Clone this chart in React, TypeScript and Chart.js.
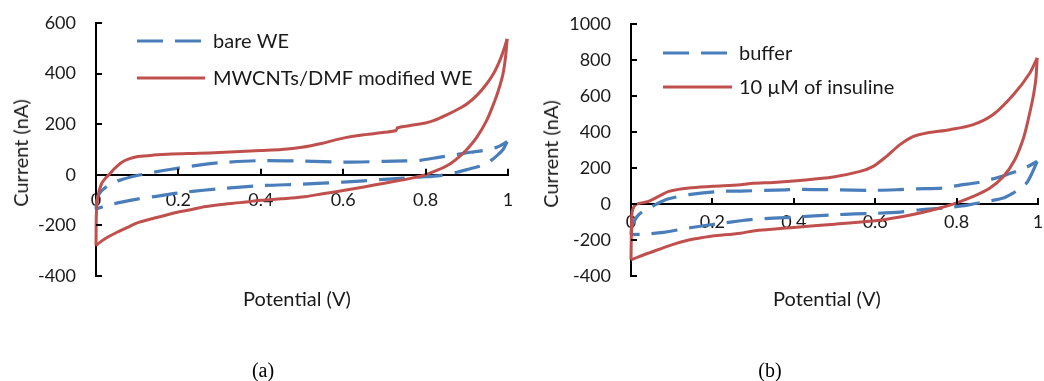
import React, { useEffect, useRef } from "react";
import { Chart, registerables } from "chart.js";

Chart.register(...registerables);

// ---------- Panel (a) data: potential (V) / current (nA) ----------
const aBareFwdV = [0, 0.003, 0.01, 0.03, 0.057, 0.1, 0.14, 0.183, 0.267, 0.3, 0.4, 0.5, 0.6, 0.7, 0.75, 0.786, 0.835, 0.875, 0.908, 0.94, 0.973, 0.998];
const aBareFwdI = [-135, -95, -70, -42, -22, -3, 10, 22, 42, 48, 56, 54, 50, 53, 55, 57, 70, 80, 89, 96, 109, 131];
const aBareRevV = [0.998, 0.988, 0.976, 0.96, 0.94, 0.908, 0.876, 0.835, 0.786, 0.738, 0.7, 0.6, 0.5, 0.4, 0.3, 0.267, 0.2, 0.142, 0.1, 0.062, 0.03, 0];
const aBareRevI = [131, 100, 80, 58, 38, 24, 10, -3, -9, -14, -18, -29, -37, -43, -55, -60, -72, -86, -96, -108, -120, -135];

const aMwFwdV = [0, 0.001, 0.004, 0.013, 0.022, 0.033, 0.045, 0.062, 0.08, 0.102, 0.14, 0.183, 0.25, 0.3, 0.35, 0.4, 0.45, 0.5, 0.55, 0.6, 0.65, 0.7, 0.728, 0.732, 0.76, 0.8, 0.819, 0.85, 0.875, 0.9, 0.925, 0.948, 0.965, 0.98, 0.99, 0.998];
const aMwFwdI = [-280, -150, -90, -37, -15, 3, 25, 49, 63, 72, 78, 82, 85, 88, 92, 96, 100, 109, 125, 145, 158, 168, 175, 186, 194, 205, 214, 236, 256, 280, 315, 359, 400, 451, 495, 537];
const aMwRevV = [0.998, 0.994, 0.988, 0.978, 0.968, 0.948, 0.924, 0.9, 0.882, 0.859, 0.827, 0.794, 0.76, 0.738, 0.7, 0.65, 0.6, 0.55, 0.5, 0.45, 0.4, 0.35, 0.3, 0.267, 0.223, 0.2, 0.142, 0.1, 0.078, 0.05, 0.029, 0.01, 0];
const aMwRevI = [537, 465, 400, 340, 293, 214, 148, 100, 72, 43, 17, -3, -15, -22, -33, -48, -62, -75, -88, -95, -101, -110, -118, -125, -140, -147, -171, -190, -207, -228, -246, -266, -280];

// ---------- Panel (b) data ----------
const bBufFwdV = [0, 0.003, 0.015, 0.03, 0.052, 0.085, 0.1, 0.142, 0.22, 0.269, 0.38, 0.4, 0.5, 0.594, 0.661, 0.7, 0.767, 0.808, 0.85, 0.882, 0.923, 0.968, 0.998];
const bBufFwdI = [-170, -120, -69, -40, -13, 24, 33, 52, 70, 72, 79, 81, 79, 76, 80, 84, 89, 105, 118, 135, 163, 200, 237];
const bBufRevV = [0.998, 0.985, 0.972, 0.955, 0.939, 0.915, 0.874, 0.84, 0.808, 0.77, 0.71, 0.661, 0.6, 0.55, 0.5, 0.4, 0.3, 0.269, 0.22, 0.142, 0.08, 0.04, 0];
const bBufRevI = [237, 170, 117, 85, 61, 33, 14, 0, -12, -22, -32, -45, -52, -55, -60, -73, -85, -93, -108, -133, -158, -166, -170];

const bInsFwdV = [0, 0.001, 0.002, 0.004, 0.011, 0.043, 0.068, 0.093, 0.142, 0.2, 0.269, 0.3, 0.35, 0.415, 0.497, 0.563, 0.595, 0.628, 0.661, 0.694, 0.727, 0.784, 0.841, 0.89, 0.94, 0.98, 0.998];
const bInsFwdI = [-310, -150, -60, -32, -4, 15, 42, 70, 89, 98, 107, 115, 120, 131, 150, 181, 209, 265, 330, 376, 395, 413, 441, 497, 608, 728, 812];
const bInsRevV = [0.998, 0.995, 0.99, 0.984, 0.976, 0.964, 0.943, 0.915, 0.882, 0.841, 0.8, 0.759, 0.71, 0.661, 0.6, 0.5, 0.4, 0.3, 0.269, 0.2, 0.182, 0.142, 0.1, 0.043, 0.02, 0];
const bInsRevI = [812, 700, 620, 550, 469, 364, 246, 153, 89, 42, 6, -22, -50, -72, -93, -112, -130, -150, -162, -178, -184, -200, -227, -273, -292, -310];

// ---------- Axes ----------
const xTicks = [0, 0.2, 0.4, 0.6, 0.8, 1];
const aYRange = [-400, 600];
const bYRange = [-400, 1000];

const aLabels = ["bare WE", "MWCNTs/DMF modified WE"];
const bLabels = ["buffer", "10 µM of insuline"];

const BLUE = "#4a7ebb";
const RED = "#c0504d";
const FONT = "Lato, 'Open Sans', sans-serif";
const TEXT = "#1a1a1a";

const toPts = (v: number[], i: number[]) => v.map((x, k) => ({ x, y: i[k] }));

const decorPlugin = {
  id: "cvDecor",
  afterDraw(chart: any, _args: any, opts: any) {
    const ctx = chart.ctx as CanvasRenderingContext2D;
    const xs = chart.scales.x;
    const ys = chart.scales.y;
    const y0 = ys.getPixelForValue(0);
    ctx.save();
    ctx.strokeStyle = "#000";
    ctx.lineWidth = 2;
    ctx.setLineDash([]);
    ctx.beginPath();
    ys.ticks.forEach((t: any) => {
      const py = Math.round(ys.getPixelForValue(t.value));
      ctx.moveTo(xs.left, py);
      ctx.lineTo(xs.left + 6, py);
    });
    xs.ticks.forEach((t: any) => {
      if (Math.abs(t.value) < 1e-9) return;
      const px = Math.round(xs.getPixelForValue(t.value));
      ctx.moveTo(px, y0);
      ctx.lineTo(px, y0 - 6);
    });
    ctx.stroke();

    const L = opts && opts.legend;
    if (L) {
      ctx.font = `20px ${FONT}`;
      ctx.textBaseline = "middle";
      ctx.fillStyle = TEXT;
      L.rows.forEach((ry: number, k: number) => {
        const ds = chart.data.datasets[L.ds[k]];
        ctx.strokeStyle = ds.borderColor;
        ctx.lineWidth = ds.borderWidth;
        ctx.setLineDash(ds.borderDash || []);
        ctx.lineDashOffset = 0;
        ctx.beginPath();
        ctx.moveTo(L.x1, ry);
        ctx.lineTo(L.x2, ry);
        ctx.stroke();
        ctx.setLineDash([]);
        ctx.fillText(ds.label, L.tx, ry + 1);
      });
    }
    ctx.restore();
  },
};

const zeroPad = (s: any) => {
  s.paddingTop = 0;
  s.paddingBottom = 0;
  s.paddingLeft = 0;
  s.paddingRight = 0;
};

function makeConfig(
  datasets: any[],
  yRange: number[],
  yWidth: number,
  pad: { top: number; right: number; bottom: number },
  xPad: number,
  legend: any
): any {
  return {
    type: "scatter",
    data: { datasets },
    plugins: [decorPlugin],
    options: {
      animation: false,
      responsive: false,
      devicePixelRatio: 1,
      layout: { padding: { left: 0, top: pad.top, right: pad.right, bottom: pad.bottom } },
      plugins: {
        legend: { display: false },
        tooltip: { enabled: false },
        cvDecor: { legend },
      },
      scales: {
        x: {
          type: "linear",
          position: { y: 0 },
          min: 0,
          max: 1,
          afterBuildTicks: (s: any) => {
            s.ticks = xTicks.map((v) => ({ value: v }));
          },
          afterFit: zeroPad,
          grid: { display: false, drawTicks: false },
          border: { display: true, color: "#000", width: 2 },
          ticks: {
            padding: xPad,
            color: TEXT,
            font: { family: FONT, size: 18 },
            maxRotation: 0,
            autoSkip: false,
            callback: (v: any) => String(Number(Number(v).toFixed(1))),
          },
        },
        y: {
          type: "linear",
          position: "left",
          min: yRange[0],
          max: yRange[1],
          afterFit: (s: any) => {
            s.width = yWidth;
            zeroPad(s);
          },
          grid: { display: false, drawTicks: false },
          border: { display: true, color: "#000", width: 2 },
          ticks: {
            stepSize: 200,
            padding: 20,
            color: TEXT,
            font: { family: FONT, size: 18 },
            callback: (v: any) => String(v),
          },
        },
      },
    },
  };
}

function lineDs(label: string, data: any[], dashed: boolean, order: number) {
  return {
    label,
    data,
    showLine: true,
    fill: false,
    pointRadius: 0,
    borderColor: dashed ? BLUE : RED,
    backgroundColor: dashed ? BLUE : RED,
    borderWidth: dashed ? 3.2 : 3,
    borderDash: dashed ? [26, 12] : [],
    borderCapStyle: "butt",
    borderJoinStyle: "round",
    tension: 0.3,
    clip: false,
    order,
  };
}

const abs = (extra: React.CSSProperties): React.CSSProperties => ({ position: "absolute", ...extra });

export default function App() {
  const refA = useRef<HTMLCanvasElement>(null);
  const refB = useRef<HTMLCanvasElement>(null);

  useEffect(() => {
    const cA = new Chart(
      refA.current as HTMLCanvasElement,
      makeConfig(
        [
          lineDs(aLabels[0], toPts(aBareFwdV, aBareFwdI), true, 2),
          lineDs(aLabels[0], toPts(aBareRevV, aBareRevI), true, 3),
          lineDs(aLabels[1], toPts(aMwFwdV, aMwFwdI), false, 0),
          lineDs(aLabels[1], toPts(aMwRevV, aMwRevI), false, 1),
        ],
        aYRange,
        96,
        { top: 23, right: 12, bottom: 44 },
        15,
        { rows: [41, 78], ds: [0, 2], x1: 137, x2: 205, tx: 213 }
      )
    );
    const cB = new Chart(
      refB.current as HTMLCanvasElement,
      makeConfig(
        [
          lineDs(bLabels[0], toPts(bBufFwdV, bBufFwdI), true, 2),
          lineDs(bLabels[0], toPts(bBufRevV, bBufRevI), true, 3),
          lineDs(bLabels[1], toPts(bInsFwdV, bInsFwdI), false, 0),
          lineDs(bLabels[1], toPts(bInsRevV, bInsRevI), false, 1),
        ],
        bYRange,
        111,
        { top: 24, right: 6, bottom: 44 },
        7,
        { rows: [53, 87], ds: [0, 2], x1: 143, x2: 212, tx: 219 }
      )
    );
    return () => {
      cA.destroy();
      cB.destroy();
    };
  }, []);

  const axisTitle: React.CSSProperties = {
    fontFamily: FONT,
    fontSize: 20,
    color: TEXT,
    whiteSpace: "nowrap",
    lineHeight: "22px",
  };
  const caption: React.CSSProperties = {
    fontFamily: "'Liberation Serif', 'Times New Roman', serif",
    fontSize: 20,
    color: "#000",
    whiteSpace: "nowrap",
    lineHeight: "22px",
  };

  return (
    <div style={abs({ left: 0, top: 0, width: 1044, height: 381, background: "#fff", overflow: "hidden" })}>
      <canvas ref={refA} width={520} height={320} style={abs({ left: 0, top: 0 })} />
      <canvas ref={refB} width={524} height={320} style={abs({ left: 520, top: 0 })} />
      <div style={abs({ ...axisTitle, left: 20, top: 153, transform: "translate(-50%, -50%) rotate(-90deg)" })}>Current (nA)</div>
      <div style={abs({ ...axisTitle, left: 550, top: 154, transform: "translate(-50%, -50%) rotate(-90deg)" })}>Current (nA)</div>
      <div style={abs({ ...axisTitle, left: 297, top: 298, transform: "translate(-50%, -50%)" })}>Potential (V)</div>
      <div style={abs({ ...axisTitle, left: 827, top: 298, transform: "translate(-50%, -50%)" })}>Potential (V)</div>
      <div style={abs({ ...caption, left: 263, top: 370, transform: "translate(-50%, -50%)" })}>(a)</div>
      <div style={abs({ ...caption, left: 770, top: 370, transform: "translate(-50%, -50%)" })}>(b)</div>
    </div>
  );
}
